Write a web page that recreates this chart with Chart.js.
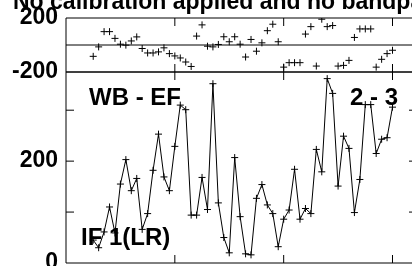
<!DOCTYPE html>
<html>
<head>
<meta charset="utf-8">
<script src="https://cdn.jsdelivr.net/npm/chart.js@4.4.1/dist/chart.umd.min.js"></script>
<style>
    html, body { margin: 0; padding: 0; background: #fff; }
    body { width: 412px; height: 266px; overflow: hidden; position: relative; }
    #plots { position: absolute; left: 0; top: -10px; width: 430px; height: 300px; }
    #plots canvas { position: absolute; left: 0; top: 0; }
    .txt { position: absolute; font-family: 'Liberation Sans', Arial, sans-serif; font-weight: bold;
           color: #000; white-space: nowrap; }
</style>
</head>
<body>
<div id="plots">
    <canvas id="phaseChart" width="430" height="300"></canvas>
    <canvas id="ampChart" width="430" height="300"></canvas>
</div>
<div class="txt" style="left:13px; top:-10px; font-size:23px; line-height:23px;">No calibration applied and no bandpass</div>
<div class="txt" style="left:89px; top:85px; font-size:24px; line-height:24px;">WB - EF</div>
<div class="txt" style="left:350px; top:85px; font-size:24px; line-height:24px;">2 - 3</div>
<div class="txt" style="left:81px; top:225px; font-size:24px; line-height:24px;">IF 1(LR)</div>

<script>
// channel numbers along x
const channels = [5, 6, 7, 8, 9, 10, 11, 12, 13, 14, 15, 16, 17, 18, 19, 20, 21, 22, 23, 24,
    25, 26, 27, 28, 29, 30, 31, 32, 33, 34, 35, 36, 37, 38, 39, 40, 41, 42, 43, 44,
    45, 46, 47, 48, 49, 50, 51, 52, 53, 54, 55, 56, 57, 58, 59, 60];

// phase (deg), top panel
const phase = [-84, -14, 99, 99, 49, 6, -1, 30, 60, -26, -59, -59, -51, -21, -64, -81, -96, -126, -159, 66,
    149, -9, -14, 4, 61, 24, 61, 6, -89, 41, -46, 16, 106, 154, 24, -164, -131, -131, -131, 81,
    136, -156, 191, 136, 144, -156, -151, -114, 56, 119, 119, 119, -164, -106, -64, -39];

// amplitude, bottom panel
const amplitude = [45, 30, 61, 110, 59, 155, 203, 142, 166, 66, 97, 182, 253, 169, 142, 229, 310, 301, 94, 94,
    168, 105, 352, 118, 50, 20, 207, 91, 18, 16, 127, 154, 114, 97, 32, 86, 104, 184, 86, 107,
    97, 223, 179, 362, 333, 151, 249, 225, 99, 164, 311, 311, 215, 243, 246, 306];

const xTicks = [20, 40, 60];
const phaseLabels = [-200, 200];
const ampLabels = [0, 200];
const ampTicks = [100, 200, 300];

const tickFont = { family: "'Liberation Sans', Arial, sans-serif", size: 23, weight: 'bold' };

// gnuplot style frame: border, inward ticks, zero axis
const framePlugin = {
    id: 'frame',
    afterDraw(chart, args, opts) {
        const { ctx, chartArea: a, scales } = chart;
        ctx.save();
        ctx.strokeStyle = '#000';
        ctx.lineWidth = 1;
        ctx.beginPath();
        ctx.rect(a.left, a.top, a.right - a.left, a.bottom - a.top);
        xTicks.forEach(v => {
            const px = scales.x.getPixelForValue(v);
            ctx.moveTo(px, a.top);
            ctx.lineTo(px, a.top + 8);
            ctx.moveTo(px, a.bottom);
            ctx.lineTo(px, a.bottom - 8);
        });
        (opts.yTicks || []).forEach(v => {
            const py = scales.y.getPixelForValue(v);
            ctx.moveTo(a.left, py);
            ctx.lineTo(a.left + 8, py);
            ctx.moveTo(a.right, py);
            ctx.lineTo(a.right - 8, py);
        });
        if (opts.zero) {
            const py = scales.y.getPixelForValue(0);
            ctx.moveTo(a.left, py);
            ctx.lineTo(a.right, py);
        }
        ctx.stroke();
        ctx.restore();
    }
};

function makeChart(id, values, showLine, yMin, yMax, step, labels, padTop, padBottom, frameOpts) {
    const ctx = document.getElementById(id).getContext('2d');
    return new Chart(ctx, {
        type: 'scatter',
        data: {
            datasets: [{
                data: channels.map((c, i) => ({ x: c, y: values[i] })),
                showLine: showLine,
                borderColor: '#000',
                backgroundColor: '#000',
                borderWidth: 1,
                tension: 0,
                pointStyle: 'cross',
                pointRadius: 3.5,
                pointBorderWidth: 1
            }]
        },
        options: {
            responsive: false,
            devicePixelRatio: 1,
            animation: false,
            layout: { padding: { left: 0, right: 13, top: padTop, bottom: padBottom } },
            scales: {
                x: { type: 'linear', min: 0, max: 64.5, display: false },
                y: {
                    type: 'linear',
                    min: yMin,
                    max: yMax,
                    afterFit: s => { s.width = 66; },
                    grid: { display: false, drawTicks: false },
                    border: { display: false },
                    ticks: {
                        stepSize: step,
                        autoSkip: false,
                        padding: 8,
                        color: '#000',
                        font: tickFont,
                        callback: v => labels.includes(v) ? String(v) : ''
                    }
                }
            },
            plugins: {
                legend: { display: false },
                tooltip: { enabled: false },
                frame: frameOpts
            }
        },
        plugins: [framePlugin]
    });
}

makeChart('phaseChart', phase, false, -200, 200, 400, phaseLabels, 28, 218, { yTicks: [], zero: true });
makeChart('ampChart', amplitude, true, 0, 375, 100, ampLabels, 82, 27, { yTicks: ampTicks, zero: false });
</script>
</body>
</html>
